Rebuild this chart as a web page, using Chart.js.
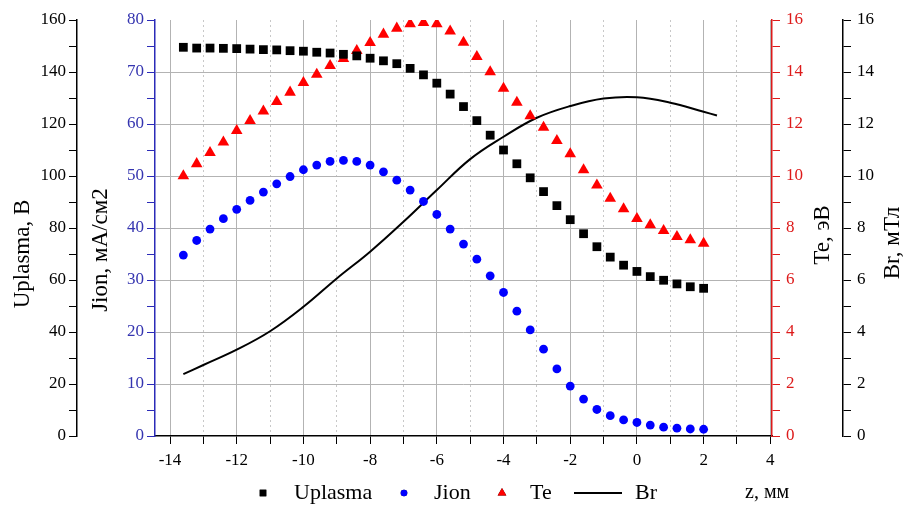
<!DOCTYPE html>
<html>
<head>
<meta charset="utf-8">
<script src="https://cdn.jsdelivr.net/npm/chart.js@4/dist/chart.umd.min.js"></script>
<style>
  body { margin: 0; background: #fff; }
  canvas { display: block; }
</style>
</head>
<body>
<canvas id="myChart" width="903" height="506"></canvas>
<script>
// positions along z, mm
const z = [-13.6, -13.2, -12.8, -12.4, -12.0, -11.6, -11.2, -10.8, -10.4, -10.0,
           -9.6, -9.2, -8.8, -8.4, -8.0, -7.6, -7.2, -6.8, -6.4, -6.0,
           -5.6, -5.2, -4.8, -4.4, -4.0, -3.6, -3.2, -2.8, -2.4, -2.0,
           -1.6, -1.2, -0.8, -0.4, 0.0, 0.4, 0.8, 1.2, 1.6, 2.0];

// plasma potential, V
const uplasma = [149.5, 149.2, 149.2, 149.1, 149.0, 148.8, 148.6, 148.5, 148.2, 148.0,
                 147.6, 147.3, 146.8, 146.2, 145.3, 144.3, 143.2, 141.4, 138.9, 135.7,
                 131.5, 126.7, 121.3, 115.7, 110.0, 104.7, 99.3, 94.0, 88.6, 83.2,
                 77.8, 72.8, 68.8, 65.7, 63.3, 61.3, 59.9, 58.5, 57.4, 56.8];

// ion current density, mA/cm2
const jion = [34.8, 37.6, 39.8, 41.8, 43.6, 45.3, 46.9, 48.5, 49.9, 51.2,
              52.1, 52.8, 53.0, 52.8, 52.1, 50.8, 49.2, 47.3, 45.1, 42.6,
              39.8, 36.9, 34.0, 30.8, 27.6, 24.0, 20.4, 16.7, 12.9, 9.6,
              7.1, 5.1, 3.9, 3.1, 2.6, 2.1, 1.7, 1.5, 1.35, 1.3];

// electron temperature, eV
const te = [10.0, 10.47, 10.9, 11.3, 11.74, 12.13, 12.49, 12.86, 13.22, 13.59,
            13.91, 14.24, 14.51, 14.82, 15.13, 15.45, 15.68, 15.85, 15.9, 15.85,
            15.57, 15.14, 14.59, 14.0, 13.37, 12.83, 12.31, 11.87, 11.36, 10.85,
            10.23, 9.65, 9.14, 8.73, 8.36, 8.12, 7.9, 7.67, 7.54, 7.41];

// radial magnetic field, mT
const brZ = [-13.6, -13, -12, -11, -10, -9, -8, -7, -6, -5, -4, -3, -2, -1, 0, 1, 2, 2.4];
const br = [2.38, 2.73, 3.32, 4.03, 4.97, 6.06, 7.09, 8.24, 9.46, 10.65, 11.51, 12.24, 12.69, 12.98, 13.03, 12.82, 12.47, 12.33];

const xTicks = [-14, -13, -12, -11, -10, -9, -8, -7, -6, -5, -4, -3, -2, -1, 0, 1, 2, 3, 4];

const FONT = '"Liberation Serif", "Times New Roman", serif';
const BLUE_AXIS = '#2b2bb8';
const RED_AXIS = '#dd1a1a';
const GRID = '#b3b3b3';

function pts(xs, ys) {
  return xs.map((x, i) => ({ x: x, y: ys[i] }));
}

function fixWidth(w) {
  return function (scale) { scale.width = w; };
}

// axis titles, all reading bottom to top
const axisTitles = {
  id: 'axisTitles',
  afterDraw(chart) {
    const ctx = chart.ctx;
    const s = chart.scales;
    const put = (text, x, y) => {
      ctx.save();
      ctx.translate(x, y);
      ctx.rotate(-Math.PI / 2);
      ctx.fillText(text, 0, 0);
      ctx.restore();
    };
    ctx.save();
    ctx.fillStyle = '#000';
    ctx.textAlign = 'center';
    ctx.textBaseline = 'middle';
    ctx.font = '23px ' + FONT;
    put('Uplasma, B', s.yU.left + 23, 254);
    put('Jion, мА/см2', s.yJ.left + 24, 250);
    put('Te, эВ', s.yT.left + 51, 235);
    put('Br, мТл', s.yB.left + 50, 243);
    ctx.restore();
  }
};

// legend row under the x axis
const legendRow = {
  id: 'legendRow',
  afterDraw(chart) {
    const ctx = chart.ctx;
    const y = 493;
    const marks = [263, 404, 502, 598];
    const texts = [294, 434, 530, 635];
    ctx.save();
    ctx.font = '22px ' + FONT;
    ctx.textBaseline = 'middle';
    ctx.textAlign = 'left';
    chart.data.datasets.forEach((ds, i) => {
      if (ds.showLine) {
        ctx.strokeStyle = ds.borderColor;
        ctx.lineWidth = ds.borderWidth;
        ctx.beginPath();
        ctx.moveTo(marks[i] - 24, y);
        ctx.lineTo(marks[i] + 24, y);
        ctx.stroke();
      } else {
        Chart.helpers.drawPoint(ctx, {
          pointStyle: ds.pointStyle,
          radius: ds.pointRadius * 0.75,
          borderWidth: 0,
          rotation: 0
        }, marks[i], y);
        ctx.fillStyle = ds.backgroundColor;
        ctx.fill();
      }
      ctx.fillStyle = '#000';
      ctx.fillText(ds.label, texts[i], y);
    });
    ctx.font = '20px ' + FONT;
    ctx.fillText('z, мм', 745, y);
    ctx.restore();
  }
};

const ctx = document.getElementById('myChart').getContext('2d');
Chart.defaults.font.family = FONT;
Chart.defaults.font.size = 17;
Chart.defaults.color = '#000';

const myChart = new Chart(ctx, {
  type: 'scatter',
  data: {
    datasets: [{
      label: 'Uplasma',
      data: pts(z, uplasma),
      yAxisID: 'yU',
      pointStyle: 'rect',
      pointRadius: 6.2,
      pointBorderWidth: 0,
      backgroundColor: '#000000',
      borderColor: '#000000'
    }, {
      label: 'Jion',
      data: pts(z, jion),
      yAxisID: 'yJ',
      pointStyle: 'circle',
      pointRadius: 4.4,
      pointBorderWidth: 0,
      backgroundColor: '#0000ff',
      borderColor: '#0000ff'
    }, {
      label: 'Te',
      data: pts(z, te),
      yAxisID: 'yT',
      pointStyle: 'triangle',
      pointRadius: 6.7,
      pointBorderWidth: 0,
      backgroundColor: '#ff0000',
      borderColor: '#ff0000'
    }, {
      label: 'Br',
      data: pts(brZ, br),
      yAxisID: 'yB',
      showLine: true,
      tension: 0.4,
      pointRadius: 0,
      borderWidth: 2,
      borderColor: '#000000',
      backgroundColor: '#000000'
    }]
  },
  options: {
    responsive: false,
    animation: false,
    layout: { padding: { top: 20, left: 0, right: 0, bottom: 0 } },
    plugins: {
      legend: { display: false },
      tooltip: { enabled: false }
    },
    scales: {
      x: {
        type: 'linear',
        min: -14.45,
        max: 4.05,
        afterBuildTicks: (scale) => { scale.ticks = xTicks.map(v => ({ value: v })); },
        afterFit: (scale) => { scale.height = 70; },
        ticks: {
          autoSkip: false,
          maxRotation: 0,
          padding: 6,
          callback: (v) => (v % 2 === 0 ? String(v) : '')
        },
        grid: {
          color: (c) => (c.tick && c.tick.value % 2 !== 0 ? '#c8c8c8' : GRID),
          lineWidth: 1,
          tickLength: 8,
          tickColor: '#000'
        },
        border: {
          color: '#000',
          width: 1.5,
          dash: (c) => (c.tick && c.tick.value % 2 !== 0 ? [2, 3] : [])
        }
      },
      yU: {
        type: 'linear',
        position: 'left',
        weight: 1,
        min: 0,
        max: 160,
        afterFit: fixWidth(77),
        ticks: {
          stepSize: 10,
          autoSkip: false,
          padding: 3,
          callback: (v) => (v % 20 === 0 ? String(v) : '')
        },
        grid: { drawOnChartArea: false, tickLength: 8, tickColor: '#000' },
        border: { color: '#000', width: 1.5 }
      },
      yJ: {
        type: 'linear',
        position: 'left',
        weight: 0,
        min: 0,
        max: 80,
        afterFit: fixWidth(78),
        ticks: {
          stepSize: 5,
          autoSkip: false,
          padding: 3,
          color: '#3535b0',
          callback: (v) => (v % 10 === 0 ? String(v) : '')
        },
        grid: {
          color: (c) => (c.tick && c.tick.value % 10 === 0 && c.tick.value > 0 && c.tick.value < 80 ? GRID : 'rgba(0,0,0,0)'),
          tickLength: 8,
          tickColor: BLUE_AXIS
        },
        border: { color: BLUE_AXIS, width: 1.5 }
      },
      yT: {
        type: 'linear',
        position: 'right',
        weight: 0,
        min: 0,
        max: 16,
        afterFit: fixWidth(71),
        ticks: {
          stepSize: 1,
          autoSkip: false,
          padding: 6,
          color: RED_AXIS,
          callback: (v) => (v % 2 === 0 ? String(v) : '')
        },
        grid: { drawOnChartArea: false, tickLength: 8, tickColor: RED_AXIS },
        border: { color: RED_AXIS, width: 1.5 }
      },
      yB: {
        type: 'linear',
        position: 'right',
        weight: 1,
        min: 0,
        max: 16,
        afterFit: fixWidth(60),
        ticks: {
          stepSize: 1,
          autoSkip: false,
          padding: 6,
          callback: (v) => (v % 2 === 0 ? String(v) : '')
        },
        grid: { drawOnChartArea: false, tickLength: 8, tickColor: '#000' },
        border: { color: '#000', width: 1.5 }
      }
    }
  },
  plugins: [axisTitles, legendRow]
});
</script>
</body>
</html>
